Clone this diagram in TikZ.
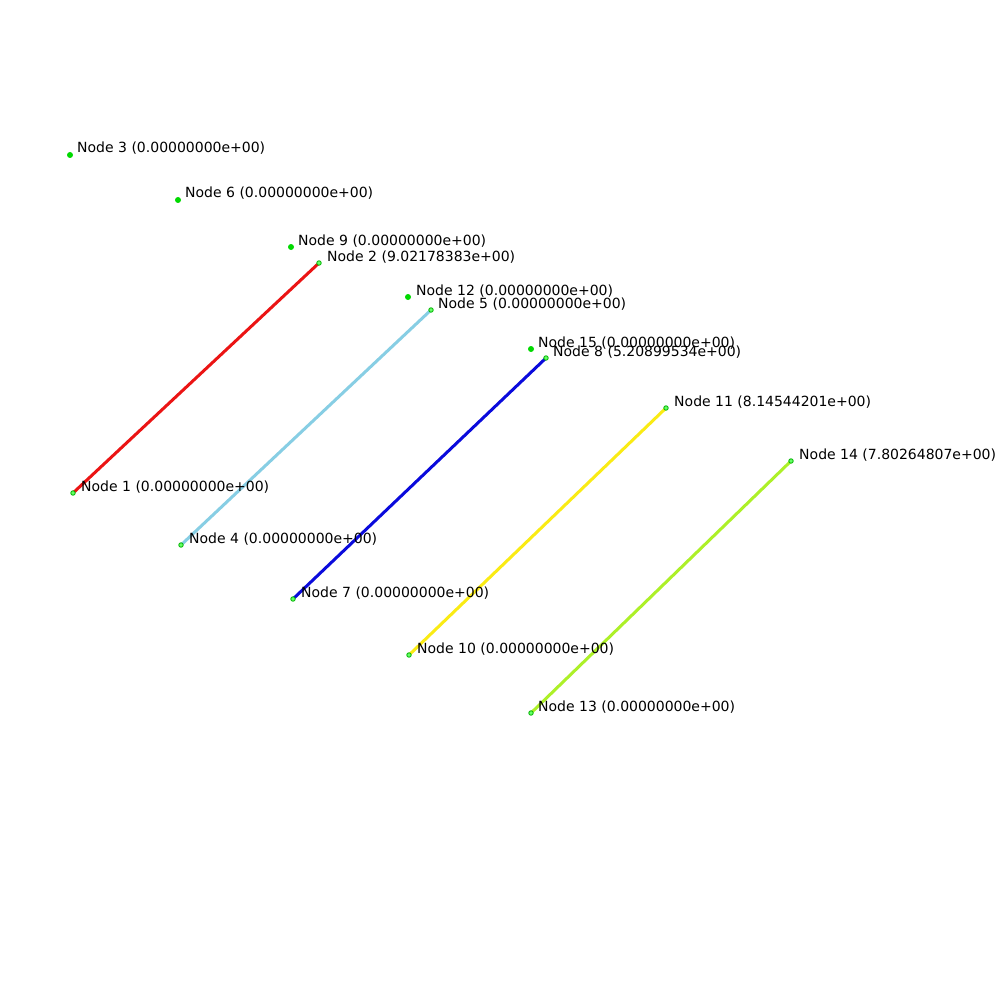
\documentclass[tikz,border=0pt]{standalone}
\usepackage{fontspec}
\setmainfont{DejaVu Sans}
\usetikzlibrary{calc}
\begin{document}
\begin{tikzpicture}[x=1pt,y=-1pt,
  pt/.style={circle,fill=green!85!black,inner sep=0pt,minimum size=6pt},
  endpt/.style={circle,draw=green!70!black,fill=green!60,line width=0.8pt,inner sep=0pt,minimum size=4.5pt},
  lbl/.style={anchor=base west,inner sep=0pt,font=\fontsize{14}{14}\selectfont},
  edge/.style={line width=3pt,line cap=round}]
\useasboundingbox[fill=white] (0,0) rectangle (1000,1000);
% isolated nodes
\node[pt] (n3)  at (70,155) {};
\node[pt] (n6)  at (178,200) {};
\node[pt] (n9)  at (291,247) {};
\node[pt] (n12) at (408,297) {};
\node[pt] (n15) at (531,349) {};
% connected node pairs
\coordinate (n1)  at (73,493);
\coordinate (n2)  at (319,263);
\coordinate (n4)  at (181,545);
\coordinate (n5)  at (431,310);
\coordinate (n7)  at (293,599);
\coordinate (n8)  at (546,358);
\coordinate (n10) at (409,655);
\coordinate (n11) at (666,408);
\coordinate (n13) at (531,713);
\coordinate (n14) at (791,461);
\draw[edge,color={rgb,255:red,235;green,20;blue,20}] (n1) -- (n2);
\draw[edge,color={rgb,255:red,135;green,206;blue,228}] (n4) -- (n5);
\draw[edge,color={rgb,255:red,10;green,10;blue,220}] (n7) -- (n8);
\draw[edge,color={rgb,255:red,250;green,235;blue,20}] (n10) -- (n11);
\draw[edge,color={rgb,255:red,173;green,240;blue,40}] (n13) -- (n14);
\foreach \n in {n1,n2,n4,n5,n7,n8,n10,n11,n13,n14}
  \node[endpt] at (\n) {};
% labels
\node[lbl] at ($(n1)+(8,-2)$)  {Node 1 (0.00000000e+00)};
\node[lbl] at ($(n2)+(8,-2)$)  {Node 2 (9.02178383e+00)};
\node[lbl] at ($(n3)+(7,-2)$)  {Node 3 (0.00000000e+00)};
\node[lbl] at ($(n4)+(8,-2)$)  {Node 4 (0.00000000e+00)};
\node[lbl] at ($(n5)+(7,-2)$)  {Node 5 (0.00000000e+00)};
\node[lbl] at ($(n6)+(7,-2)$)  {Node 6 (0.00000000e+00)};
\node[lbl] at ($(n7)+(8,-2)$)  {Node 7 (0.00000000e+00)};
\node[lbl] at ($(n8)+(7,-2)$)  {Node 8 (5.20899534e+00)};
\node[lbl] at ($(n9)+(7,-2)$)  {Node 9 (0.00000000e+00)};
\node[lbl] at ($(n10)+(8,-2)$) {Node 10 (0.00000000e+00)};
\node[lbl] at ($(n11)+(8,-2)$) {Node 11 (8.14544201e+00)};
\node[lbl] at ($(n12)+(8,-2)$) {Node 12 (0.00000000e+00)};
\node[lbl] at ($(n13)+(7,-2)$) {Node 13 (0.00000000e+00)};
\node[lbl] at ($(n14)+(8,-2)$) {Node 14 (7.80264807e+00)};
\node[lbl] at ($(n15)+(7,-2)$) {Node 15 (0.00000000e+00)};
\end{tikzpicture}
\end{document}
